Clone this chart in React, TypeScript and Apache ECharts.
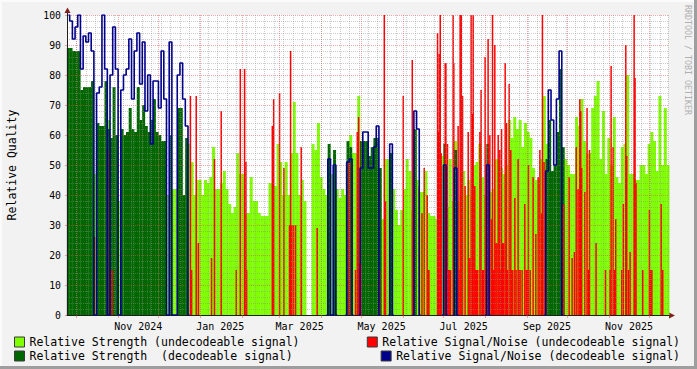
import React, { useEffect, useRef } from 'react';
import * as echarts from 'echarts';

// ---------- data (x = days since 2024-09-24, greens/blue in 2-day bins) ----------
const LG_NAME = 'Relative Strength (undecodeable signal)';
const DG_NAME = 'Relative Strength  (decodeable signal)';
const RED_NAME = 'Relative Signal/Noise (undecodeable signal)';
const BLUE_NAME = 'Relative Signal/Noise (decodeable signal)';

const xLabels = ['Nov 2024', 'Jan 2025', 'Mar 2025', 'May 2025', 'Jul 2025', 'Sep 2025', 'Nov 2025'];
const labelMonths: [number, number][] = [[2024, 11], [2025, 1], [2025, 3], [2025, 5], [2025, 7], [2025, 9], [2025, 11]];
const tickMonths: [number, number][] = [
  [2024, 10], [2024, 11], [2024, 12], [2025, 1], [2025, 2], [2025, 3], [2025, 4], [2025, 5],
  [2025, 6], [2025, 7], [2025, 8], [2025, 9], [2025, 10], [2025, 11], [2025, 12],
];

// Relative Strength (undecodeable), one value per 2-day bin
const strengthUndecodeable = [
  0, 0, 0, 0, 0, 0, 0, 0, 0, 0,
  47, 40, 0, 0, 0, 65, 0, 0, 38, 38,
  0, 0, 0, 0, 0, 0, 0, 0, 0, 0,
  0, 0, 0, 0, 0, 0, 0, 40, 0, 42,
  42, 0, 0, 40, 0, 57, 51, 40, 45, 45,
  40, 45, 44, 46, 56, 42, 42, 44, 48, 42,
  37, 34, 36, 54, 47, 47, 34, 34, 46, 38,
  38, 34, 33, 33, 33, 44, 44, 43, 57, 51,
  40, 51, 40, 54, 71, 54, 40, 45, 38, 0,
  0, 57, 55, 64, 46, 42, 40, 40, 47, 0,
  42, 39, 42, 40, 0, 60, 54, 54, 73, 58,
  0, 0, 0, 0, 0, 0, 0, 32, 52, 52,
  40, 42, 35, 30, 35, 42, 52, 48, 35, 62,
  45, 41, 41, 48, 34, 33, 33, 32, 0, 53,
  0, 36, 52, 38, 58, 38, 40, 48, 40, 45,
  40, 50, 51, 57, 46, 40, 0, 41, 42, 52,
  52, 49, 47, 50, 65, 59, 66, 62, 65, 56,
  64, 61, 59, 49, 45, 45, 52, 73, 57, 0,
  0, 0, 0, 0, 56, 52, 50, 47, 47, 66,
  63, 72, 58, 54, 54, 69, 73, 78, 52, 68,
  47, 59, 50, 66, 46, 44, 56, 57, 80, 47,
  47, 45, 45, 50, 50, 47, 57, 61, 58, 48,
  73, 50, 69, 50,
];

// Relative Strength (decodeable): runs of [first bin, values]
const strengthDecodeableRuns: [number, number[]][] = [
  [0, [89, 89, 88, 88, 88, 75, 76, 76, 76, 78]],
  [11, [64, 63, 63, 78, 62, 59, 76, 60]],
  [20, [62, 60, 61, 69, 62, 61, 76, 65, 70, 63, 61, 65, 72, 61, 60, 58, 58]],
  [38, [60]],
  [41, [69, 69, 40, 59]],
  [97, [57]],
  [99, [55]],
  [104, [58, 56]],
  [109, [58, 58, 58, 53, 56, 59, 59, 49]],
  [120, [54]],
  [129, [62]],
  [140, [57]],
  [144, [55]],
  [156, [57]],
  [178, [52, 65, 48, 50, 61, 82, 56]],
];

// Relative Signal/Noise (decodeable): runs of [first bin, values]
const snDecodeableRuns: [number, number[]][] = [
  [0, [100, 98, 92, 96, 100, 82, 93, 91, 94, 88, 0, 74, 76, 100, 82, 0, 80, 96, 82, 0,
    75, 80, 82, 92, 72, 88, 94, 77, 91, 68, 80, 57, 78, 78, 69, 88, 72, 0, 91, 0,
    0, 80, 84, 72, 63, 0]],
  [96, [0, 52, 0, 50, 0]],
  [103, [0, 51, 52, 0]],
  [108, [0, 49, 61, 61, 49, 49, 56, 63, 0]],
  [119, [0, 57, 0]],
  [128, [0, 68, 62, 0]],
  [139, [0, 50, 0]],
  [143, [0, 49, 0]],
  [155, [0, 50, 0]],
  [177, [0, 48, 75, 65, 50, 72, 88, 0]],
];

// Relative Signal/Noise (undecodeable): [day, value]
const snUndecodeable: [number, number][] = [
  [20.4, 26], [30.2, 55], [33.5, 15],
  [91.8, 73], [92.7, 15], [96.1, 73], [97.7, 24], [107.5, 19], [109.7, 52], [114.7, 68],
  [125.9, 15], [128.9, 82], [132.1, 82], [133.1, 51], [133.6, 15], [152.7, 63], [153.7, 72],
  [158.1, 74], [161.3, 49], [165.5, 30], [166.3, 88], [167.2, 30], [168.5, 30], [170, 30], [174.2, 56],
  [186.1, 29], [209.4, 51], [211.7, 51], [214.6, 15], [215.9, 61], [216.9, 66], [217.6, 17],
  [218.5, 17], [232.5, 15], [236, 100], [236.9, 38], [250.1, 73], [256.8, 85], [262, 43],
  [264, 34], [265.7, 49],
  [267.9, 40], [268.5, 15], [269.2, 15], [275.6, 94], [276.3, 61], [276.8, 87], [277.6, 100],
  [278.3, 54], [281.3, 84], [281.8, 84], [282.4, 15], [283, 57], [284, 15], [284.5, 15],
  [285.3, 15], [287.2, 100], [287.7, 84], [290.9, 63], [291.5, 15], [292.4, 100], [293.2, 100],
  [294.2, 73], [296.1, 43], [298.4, 61], [299.6, 19], [300.6, 100], [301.6, 67], [302.1, 100],
  [303.3, 43], [304, 15], [304.8, 15], [305.5, 15], [307.1, 61], [308, 75], [309, 15],
  [309.8, 15], [311, 86], [311.8, 15], [313.2, 92], [314.5, 60], [315.5, 32], [316.5, 100],
  [317.2, 15], [318.2, 90], [319, 24], [319.8, 24], [320.7, 60], [321.9, 55], [322.5, 15],
  [323.2, 62], [324, 24], [324.8, 24], [325.9, 84], [326.9, 64], [327.7, 15], [328.9, 77],
  [330.1, 55], [330.8, 15], [331.6, 15], [333.1, 39], [334, 15], [335.5, 52], [336.3, 15],
  [337, 15], [338.5, 15], [340.5, 37], [341.5, 15], [342.3, 15], [343.2, 50], [344.5, 15],
  [346.7, 46], [348.7, 27], [350.4, 46], [351.7, 55], [352.9, 34], [353.6, 100], [354.8, 51],
  [356, 15],
  [369.5, 37], [373.5, 46], [375.7, 19], [377.4, 21], [378.7, 56], [380.1, 42], [381.4, 72],
  [382.1, 68], [382.8, 49], [385.1, 41], [386.8, 69], [387.8, 15], [388.6, 55], [393.5, 24],
  [400.5, 15], [403.9, 15], [404.7, 83], [406.2, 56], [407, 15], [408.1, 32], [412.6, 15],
  [413.8, 37], [415.6, 90], [416.3, 53], [417.6, 15], [418.8, 21], [421.8, 100], [422.5, 79],
  [423.2, 44], [428.2, 15], [433.2, 35], [434.2, 15], [435, 15], [441.9, 37], [443.1, 15],
];

const TOTAL_DAYS = 447;
const START_UTC = Date.UTC(2024, 8, 24);

// ---------- styling ----------
const FONT = "'DejaVu Sans Mono', monospace";
const LG_COLOR = '#7fff00';
const DG_COLOR = '#006600';
const RED_COLOR = '#ff0000';
const BLUE_COLOR = '#00008b';
const GRID_COLOR = 'rgba(143,143,143,0.45)';
const MGRID_COLOR = 'rgba(222,79,79,0.5)';
const AXIS_COLOR = '#1f1f1f';
const ARROW_COLOR = '#801f1f';

const dayOf = (y: number, m: number) => Math.round((Date.UTC(y, m - 1, 1) - START_UTC) / 86400000);

export default function App() {
  const ref = useRef<HTMLDivElement>(null);

  useEffect(() => {
    if (!ref.current) return;
    const chart = echarts.init(ref.current, null, { renderer: 'svg' });

    const tickDays = tickMonths.map(([y, m]) => dayOf(y, m));
    const labelDays = labelMonths.map(([y, m]) => dayOf(y, m) + 15);

    const binCenter = (k: number) => 2 * k + 1;
    const lgData = strengthUndecodeable
      .map((v, k) => (v > 0 ? [binCenter(k), v] : null))
      .filter((d) => d !== null);
    const dgData: number[][] = [];
    strengthDecodeableRuns.forEach(([s, vals]) => vals.forEach((v, i) => dgData.push([binCenter(s + i), v])));

    const blueSeries = snDecodeableRuns.map(([s, vals]) => ({
      name: BLUE_NAME, type: 'line', xAxisIndex: 0,
      data: vals.map((v, i) => [binCenter(s + i), v]),
      step: 'middle', showSymbol: false, symbol: 'none',
      lineStyle: { color: BLUE_COLOR, width: 1.6 }, itemStyle: { color: BLUE_COLOR },
    }));

    const legendCommon = {
      orient: 'horizontal',
      itemWidth: 10,
      itemHeight: 10,
      itemGap: 0,
      padding: 5,
      selectedMode: false,
      icon: 'rect',
      textStyle: { fontFamily: FONT, fontSize: 11.5, color: '#000' },
      itemStyle: { borderColor: '#3a3a3a', borderWidth: 1 },
    };

    const option: any = {
      animation: false,
      backgroundColor: '#f2f2f2',
      grid: {
        left: 67, top: 15, width: 601, height: 300,
        show: true, backgroundColor: '#ffffff', borderWidth: 0,
      },
      legend: [
        { ...legendCommon, data: [{ name: LG_NAME, itemStyle: { color: LG_COLOR } }], left: 9, top: 331 },
        { ...legendCommon, data: [{ name: RED_NAME, itemStyle: { color: RED_COLOR } }], right: 12, top: 331 },
        { ...legendCommon, data: [{ name: DG_NAME, itemStyle: { color: DG_COLOR } }], left: 9, top: 345 },
        { ...legendCommon, data: [{ name: BLUE_NAME, itemStyle: { color: BLUE_COLOR } }], right: 12, top: 345 },
      ],
      xAxis: [
        {
          type: 'value', min: 0, max: TOTAL_DAYS, z: 3,
          axisLine: { show: true, onZero: false, lineStyle: { color: AXIS_COLOR, width: 1 } },
          axisTick: { show: true, customValues: tickDays, length: 3, lineStyle: { color: MGRID_COLOR } },
          axisLabel: {
            show: true, customValues: labelDays, margin: 6,
            fontFamily: FONT, fontSize: 10, color: '#000',
            formatter: (v: number) => {
              const i = labelDays.findIndex((d) => Math.abs(d - v) < 0.01);
              return i >= 0 ? xLabels[i] : '';
            },
          },
          splitLine: { show: true, lineStyle: { color: MGRID_COLOR, type: [1, 1], width: 1 } },
        },
        {
          type: 'value', min: 0, max: TOTAL_DAYS, interval: 7, position: 'top', z: 3,
          axisLine: { show: false }, axisTick: { show: false }, axisLabel: { show: false },
          splitLine: { show: true, lineStyle: { color: GRID_COLOR, type: [1, 1], width: 1 } },
        },
      ],
      yAxis: {
        type: 'value', min: 0, max: 100, interval: 10, z: 3,
        axisLine: { show: true, lineStyle: { color: AXIS_COLOR, width: 1 } },
        axisTick: { show: true, length: 2, lineStyle: { color: MGRID_COLOR } },
        axisLabel: { fontFamily: FONT, fontSize: 9.8, color: '#000', margin: 6 },
        splitLine: { show: true, lineStyle: { color: MGRID_COLOR, type: [1, 1], width: 1 } },
        minorTick: { show: false, splitNumber: 5 },
        minorSplitLine: { show: true, lineStyle: { color: GRID_COLOR, type: [1, 1], width: 1 } },
      },
      series: [
        {
          name: LG_NAME, type: 'bar', xAxisIndex: 0, data: lgData,
          barWidth: 3, barGap: '-100%', itemStyle: { color: LG_COLOR },
        },
        {
          name: DG_NAME, type: 'bar', xAxisIndex: 0, data: dgData,
          barWidth: 3, barGap: '-100%', itemStyle: { color: DG_COLOR },
        },
        {
          name: RED_NAME, type: 'bar', xAxisIndex: 1, data: snUndecodeable,
          barWidth: 1.5, itemStyle: { color: RED_COLOR },
        },
        ...blueSeries,
      ],
      graphic: [
        { type: 'rect', shape: { x: 0, y: 0, width: 697, height: 2 }, style: { fill: '#fbfbfb' }, silent: true },
        { type: 'rect', shape: { x: 0, y: 0, width: 2, height: 369 }, style: { fill: '#fbfbfb' }, silent: true },
        { type: 'rect', shape: { x: 0, y: 366, width: 697, height: 3 }, style: { fill: '#9e9e9e' }, silent: true },
        { type: 'rect', shape: { x: 694, y: 0, width: 3, height: 369 }, style: { fill: '#9e9e9e' }, silent: true },
        { type: 'line', shape: { x1: 67.5, y1: 15, x2: 67.5, y2: 12 }, style: { stroke: AXIS_COLOR, lineWidth: 1 }, silent: true },
        { type: 'line', shape: { x1: 668, y1: 315.5, x2: 670, y2: 315.5 }, style: { stroke: AXIS_COLOR, lineWidth: 1 }, silent: true },
        { type: 'polygon', shape: { points: [[64.5, 13], [67.5, 7.5], [70.5, 13]] }, style: { fill: ARROW_COLOR }, silent: true },
        { type: 'polygon', shape: { points: [[669, 312.5], [675, 315.5], [669, 318.5]] }, style: { fill: ARROW_COLOR }, silent: true },
        {
          type: 'text', x: 12, y: 165, rotation: Math.PI / 2, silent: true,
          style: { text: 'Relative Quality', fontFamily: FONT, fontSize: 11.5, fill: '#000', textAlign: 'center', textVerticalAlign: 'middle' },
        },
        {
          type: 'text', x: 688, y: 5, rotation: -Math.PI / 2, silent: true,
          style: { text: 'RRDTOOL / TOBI OETIKER', fontFamily: FONT, fontSize: 8.3, fill: '#b0b0b0', textAlign: 'left', textVerticalAlign: 'middle' },
        },
      ],
    };

    chart.setOption(option);
    return () => chart.dispose();
  }, []);

  return <div ref={ref} style={{ position: 'fixed', left: 0, top: 0, width: 697, height: 369 }} />;
}
